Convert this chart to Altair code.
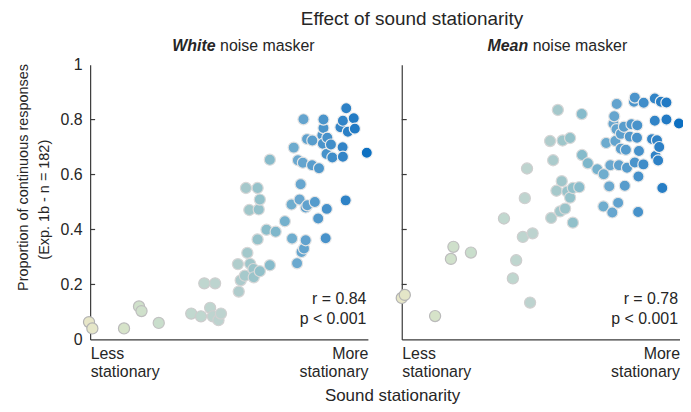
import altair as alt
import pandas as pd

FONT = "Liberation Sans"
TXT = "#262626"
AX = "#3a3a3a"

# White noise masker panel (x: 0 = less stationary, 1 = more stationary)
white_x = [-0.004, 0.008, 0.122, 0.176, 0.185, 0.247, 0.364, 0.399, 0.432, 0.442,
           0.471, 0.462, 0.411, 0.450, 0.535, 0.542, 0.557, 0.532, 0.566, 0.576,
           0.588, 0.589, 0.611, 0.647, 0.603, 0.635, 0.668, 0.701, 0.561, 0.603,
           0.611, 0.573, 0.607, 0.647, 0.725, 0.754, 0.776, 0.782, 0.809, 0.852,
           0.821, 0.758, 0.727, 0.776, 0.770, 0.761, 0.745, 0.848, 0.920, 0.768,
           0.733, 0.748, 0.766, 0.799, 0.824, 0.781, 0.800, 0.840, 0.840, 0.836,
           0.854, 0.838, 0.867, 0.851, 0.872, 0.909, 0.910, 0.922, 0.910, 0.949,
           0.901, 0.928, 0.953, 0.996]
white_y = [0.063, 0.040, 0.040, 0.120, 0.103, 0.060, 0.094, 0.084, 0.115, 0.084,
           0.094, 0.070, 0.204, 0.204, 0.174, 0.215, 0.232, 0.274, 0.315, 0.275,
           0.256, 0.226, 0.248, 0.270, 0.364, 0.399, 0.392, 0.430, 0.551, 0.551,
           0.509, 0.471, 0.473, 0.654, 0.491, 0.509, 0.480, 0.488, 0.500, 0.475,
           0.440, 0.565, 0.367, 0.361, 0.331, 0.318, 0.277, 0.368, 0.506, 0.801,
           0.698, 0.652, 0.643, 0.634, 0.623, 0.729, 0.724, 0.800, 0.769, 0.743,
           0.734, 0.712, 0.709, 0.675, 0.662, 0.699, 0.665, 0.841, 0.796, 0.805,
           0.772, 0.756, 0.767, 0.679]

# Mean noise masker panel
mean_x = [0.000, 0.011, 0.120, 0.177, 0.186, 0.249, 0.368, 0.400, 0.412, 0.462,
          0.436, 0.471, 0.443, 0.451, 0.545, 0.534, 0.579, 0.606, 0.562, 0.648,
          0.538, 0.570, 0.588, 0.616, 0.557, 0.576, 0.596, 0.606, 0.616, 0.639,
          0.649, 0.670, 0.704, 0.727, 0.747, 0.726, 0.758, 0.779, 0.803, 0.851,
          0.751, 0.782, 0.811, 0.839, 0.870, 0.852, 0.736, 0.769, 0.789, 0.807,
          0.854, 0.914, 0.923, 0.938, 0.774, 0.765, 0.762, 0.773, 0.789, 0.800,
          0.827, 0.848, 0.821, 0.847, 0.839, 0.836, 0.871, 0.911, 0.933, 0.953,
          0.911, 0.953, 0.998, 0.901, 0.919, 0.927]
mean_y = [0.151, 0.162, 0.085, 0.293, 0.337, 0.316, 0.440, 0.222, 0.288, 0.134,
          0.373, 0.386, 0.514, 0.622, 0.652, 0.722, 0.724, 0.733, 0.835, 0.820,
          0.442, 0.466, 0.476, 0.425, 0.541, 0.576, 0.538, 0.516, 0.551, 0.554,
          0.671, 0.641, 0.619, 0.601, 0.557, 0.484, 0.462, 0.497, 0.559, 0.464,
          0.634, 0.634, 0.625, 0.644, 0.637, 0.593, 0.715, 0.722, 0.694, 0.690,
          0.686, 0.668, 0.651, 0.551, 0.857, 0.812, 0.785, 0.765, 0.748, 0.774,
          0.783, 0.779, 0.738, 0.734, 0.880, 0.865, 0.861, 0.877, 0.865, 0.862,
          0.796, 0.800, 0.786, 0.729, 0.725, 0.700]

y_tick_values = [0, 0.2, 0.4, 0.6, 0.8, 1]
inner_ticks = [0.2, 0.4, 0.6, 0.8]
x_tick_values = [0, 1]

stats_white = ["r = 0.84", "p < 0.001"]
stats_mean = ["r = 0.78", "p < 0.001"]
stats_y = [0.148, 0.075]

main_title = "Effect of sound stationarity"
x_title = "Sound stationarity"
y_title = ["Proportion of continuous responses", "(Exp. 1b - n = 182)"]

W, H = 279, 276

xscale = alt.Scale(domain=[0, 1], nice=False, zero=False)
yscale = alt.Scale(domain=[0, 1], nice=False)
color_scale = alt.Scale(domain=[0, 0.5, 0.75, 1],
                        range=["#e6e6c8", "#bcd1cf", "#6aa8cf", "#0b6fc1"])
stroke_scale = alt.Scale(domain=[0, 1], range=["#b2b2b2", "#f4f4f4"])

label_expr = "datum.value < 0.5 ? ['Less','stationary'] : ['More','stationary']"


def text_layer(text, x, y, size=16, align="center", weight="normal", style="normal", angle=0):
    return alt.Chart(pd.DataFrame({"t": [text]})).mark_text(
        align=align, baseline="middle", font=FONT, fontSize=size, color=TXT,
        fontWeight=weight, fontStyle=style, angle=angle
    ).encode(text="t:N", x=alt.value(x), y=alt.value(y))


def panel(xs, ys, stats, bold_word, bold_join, left):
    df = pd.DataFrame({"x": xs, "y": ys}).sort_values("x")
    x_axis = alt.Axis(values=x_tick_values, labelExpr=label_expr, labelFlush=True,
                      ticks=False, grid=False, labelFont=FONT, labelFontSize=16,
                      labelColor=TXT, labelPadding=6, labelLineHeight=18,
                      labelBaseline="top", domainColor=AX, domainWidth=1.2, title=None)
    if left:
        y_axis = alt.Axis(values=y_tick_values,
                          labelExpr="datum.value == 0 ? '0' : datum.value == 1 ? '1' : format(datum.value, '.1f')",
                          ticks=False, grid=False, labelFont=FONT, labelFontSize=16,
                          labelColor=TXT, labelPadding=8, domainColor=AX,
                          domainWidth=1.2, title=None)
    else:
        y_axis = alt.Axis(values=y_tick_values, labels=False, ticks=False, grid=False,
                          domainColor=AX, domainWidth=1.2, title=None)

    pts = alt.Chart(df).mark_circle(size=125, opacity=1, strokeWidth=1.2).encode(
        x=alt.X("x:Q", scale=xscale, axis=x_axis),
        y=alt.Y("y:Q", scale=yscale, axis=y_axis),
        color=alt.Color("x:Q", scale=color_scale, legend=None),
        stroke=alt.Stroke("x:Q", scale=stroke_scale, legend=None),
    )
    ticks = alt.Chart(pd.DataFrame({"y": inner_ticks})).mark_rule(
        color=AX, strokeWidth=1.2
    ).encode(y=alt.Y("y:Q", scale=yscale), x=alt.value(0), x2=alt.value(5))

    st = alt.Chart(pd.DataFrame({"x": [1, 1], "y": stats_y, "t": stats})).mark_text(
        align="right", baseline="middle", font=FONT, fontSize=16, color=TXT, dx=-1.5
    ).encode(x=alt.X("x:Q", scale=xscale),
             y=alt.Y("y:Q", scale=yscale), text="t:N")

    layers = [pts, ticks, st,
              text_layer(bold_word, bold_join, -18.3, align="right", weight="bold", style="italic"),
              text_layer("noise masker", bold_join + 4.5, -18.3, align="left")]
    if left:
        layers += [
            text_layer(main_title, 323.3, -46.3, size=19),
            text_layer(x_title, 303.8, 333, size=17),
            text_layer(y_title[0], -66, 113.4, size=14.5, angle=270),
            text_layer(y_title[1], -45.4, 135.7, size=14.5, angle=270),
        ]
    return alt.layer(*layers).properties(width=W, height=H)


left = panel(white_x, white_y, stats_white, "White", 126, True)
right = panel(mean_x, mean_y, stats_mean, "Mean", 127, False)

chart = alt.hconcat(left, right, spacing=34, bounds="flush").properties(
    padding={"left": 7.5, "top": 0, "right": -4.5, "bottom": 0}
).configure_view(stroke=None).configure_axis(grid=False)

chart.save("out.html", embed_options={"renderer": "svg", "actions": False})
